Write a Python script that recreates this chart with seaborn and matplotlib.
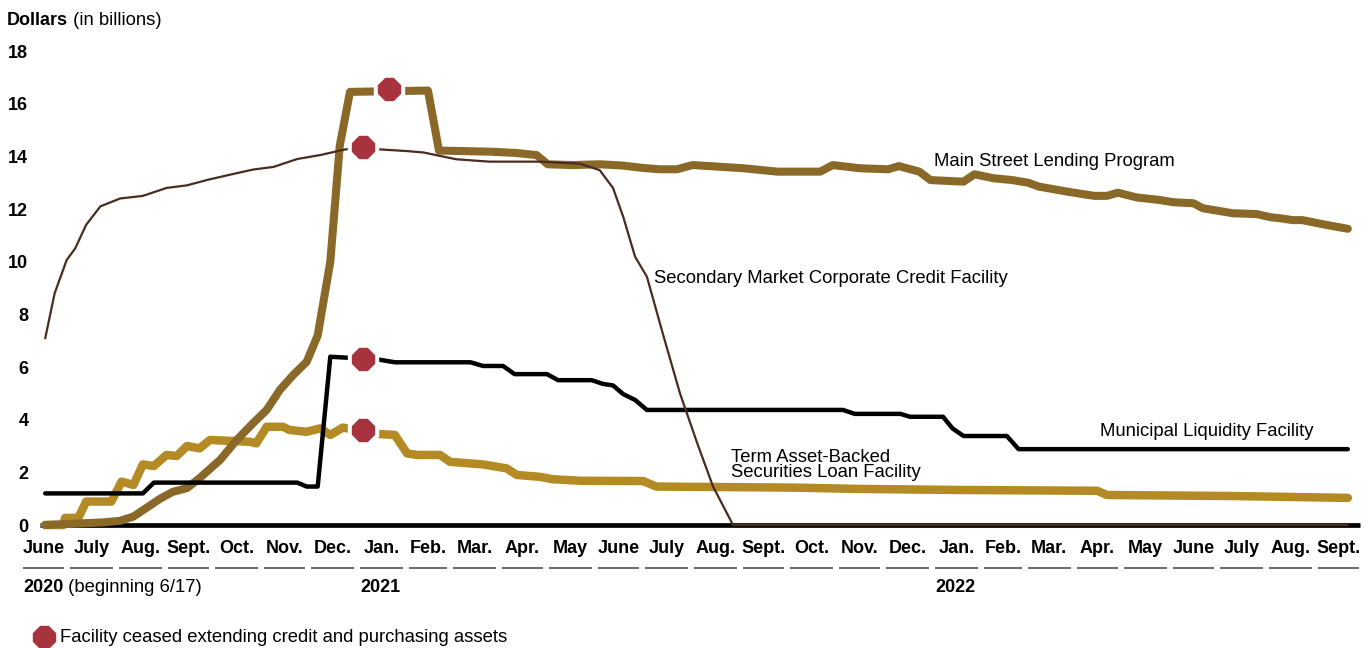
import pandas as pd
import matplotlib
matplotlib.use('Agg')
import matplotlib.pyplot as plt
import matplotlib.transforms as mtransforms
import seaborn as sns

# x values are days counted from 2020-06-01, y values in billions of dollars
START = pd.Timestamp('2020-06-01')
END = pd.Timestamp('2022-10-01')

mslp_day = [16, 53, 63.5, 72, 80, 89, 97, 106, 114, 127, 137.6, 148, 156.6, 165, 173.5, 182, 189, 197, 203, 209.5,
            259, 266, 298, 315, 328, 335, 351, 368, 383, 394, 406, 417, 427, 438, 459, 481, 508, 516, 533, 551,
            558, 571, 578, 599, 606, 618, 630, 640, 647, 665, 682, 690, 697, 709, 724, 732, 745, 751, 770, 785,
            794, 800, 808, 814, 830, 843]
mslp_val = [0.0, 0.1, 0.16, 0.32, 0.64, 1.0, 1.26, 1.4, 1.78, 2.47, 3.23, 3.87, 4.37, 5.13, 5.7, 6.2, 7.2, 10.0, 14.4, 16.45,
            16.5, 14.22, 14.18, 14.13, 14.05, 13.7, 13.67, 13.7, 13.65, 13.57, 13.51, 13.51, 13.67, 13.63, 13.55, 13.42, 13.42, 13.67, 13.55, 13.51,
            13.63, 13.42, 13.1, 13.04, 13.32, 13.17, 13.1, 13.0, 12.85, 12.66, 12.5, 12.5, 12.62, 12.44, 12.34, 12.26, 12.22, 12.03, 11.84, 11.81,
            11.69, 11.65, 11.58, 11.58, 11.39, 11.25]

smccf_day = [16, 22, 29.6, 35, 42, 51, 63.5, 78, 93, 106, 118.5, 133, 148, 161, 176, 190.5, 207, 227, 246, 256,
             277, 298, 330, 355.6, 368, 376.5, 383, 390.5, 398, 408, 419, 430, 440, 452.7, 843]
smccf_val = [7.09, 8.8, 10.06, 10.5, 11.4, 12.1, 12.4, 12.5, 12.8, 12.9, 13.1, 13.3, 13.5, 13.6, 13.9, 14.05, 14.27, 14.27, 14.2, 14.15,
             13.89, 13.8, 13.8, 13.72, 13.48, 12.8, 11.7, 10.19, 9.43, 7.29, 5.0, 3.1, 1.46, 0.0, 0.0]

mlf_day = [16, 78, 85, 176, 182, 189, 197, 206, 227, 238, 286, 294, 306.7, 314, 334.6, 341.6, 363, 370, 376.5, 383,
           390.5, 398, 522.5, 530, 559, 565, 586, 592, 599, 626.5, 634, 843]
mlf_val = [1.2, 1.2, 1.61, 1.61, 1.46, 1.46, 6.39, 6.36, 6.29, 6.18, 6.18, 6.04, 6.04, 5.73, 5.73, 5.5, 5.5, 5.36, 5.3, 4.97,
           4.75, 4.37, 4.37, 4.22, 4.22, 4.11, 4.11, 3.67, 3.38, 3.38, 2.88, 2.88]

talf_day = [16, 27.5, 28.6, 37, 42, 58, 64.5, 72, 78, 85, 93, 99.5, 106, 114, 120.6, 146, 150, 156.6, 167, 171,
            182, 190.5, 197, 205, 227, 238, 245.7, 252, 266.7, 273, 294, 309, 315.5, 330, 338, 355.6, 395.5, 404, 491, 533,
            597, 684, 690, 770, 843]
talf_val = [0.0, 0.0, 0.27, 0.27, 0.89, 0.89, 1.65, 1.52, 2.3, 2.24, 2.66, 2.62, 3.0, 2.91, 3.23, 3.16, 3.1, 3.73, 3.73, 3.61,
            3.54, 3.67, 3.42, 3.7, 3.46, 3.42, 2.72, 2.66, 2.66, 2.4, 2.3, 2.15, 1.9, 1.83, 1.74, 1.68, 1.67, 1.46, 1.42, 1.37,
            1.33, 1.3, 1.14, 1.1, 1.03]

# facility ceased extending credit (MSLP, SMCCF, MLF, TALF)
stop_day = [234.3, 218, 218, 218]
stop_val = [16.56, 14.36, 6.3, 3.59]

month_labels = ['June', 'July', 'Aug.', 'Sept.', 'Oct.', 'Nov.', 'Dec.',
                'Jan.', 'Feb.', 'Mar.', 'Apr.', 'May', 'June', 'July', 'Aug.', 'Sept.', 'Oct.', 'Nov.', 'Dec.',
                'Jan.', 'Feb.', 'Mar.', 'Apr.', 'May', 'June', 'July', 'Aug.', 'Sept.']
year_labels = ['2020', '2021', '2022']
year_starts = ['2020-06-01', '2021-01-01', '2022-01-01']
y_ticks = [0, 2, 4, 6, 8, 10, 12, 14, 16, 18]

MSLP_C = '#8a6828'
TALF_C = '#b38a24'
SMCCF_C = '#4a2b1f'
RED = '#a6333d'

sns.set_theme(style='white')
plt.rcParams['font.family'] = ['Liberation Sans', 'DejaVu Sans']
plt.rcParams['text.color'] = 'black'
plt.rcParams['xtick.color'] = 'black'
plt.rcParams['ytick.color'] = 'black'

W, H = 1369, 648
fig = plt.figure(figsize=(W / 100, H / 100), dpi=100)
ax = fig.add_axes([20 / W, (H - 540) / H, 1342 / W, 510 / H])
ax.set_xlim(0, (END - START).days)
ax.set_ylim(-15 / 26.33, 495 / 26.33)
for s in ax.spines.values():
    s.set_visible(False)

# zero baseline
ax.plot([mslp_day[0] - 3.3, (END - START).days - 1], [0, 0], color='black', lw=3.4,
        solid_capstyle='butt', zorder=1)

series = [
    (talf_day, talf_val, TALF_C, 6.1),
    (mslp_day, mslp_val, MSLP_C, 5.8),
    (mlf_day, mlf_val, 'black', 3.2),
    (smccf_day, smccf_val, SMCCF_C, 1.6),
]
for i, (d, v, c, lw) in enumerate(series):
    df = pd.DataFrame({'day': d, 'val': v})
    sns.lineplot(data=df, x='day', y='val', ax=ax, color=c, linewidth=lw, sort=False,
                 estimator=None, solid_capstyle='round', zorder=2 + i)

# ceased markers with white halo
ax.plot(stop_day, stop_val, ls='none', marker='8', ms=24, color='white', zorder=10)
ax.plot(stop_day, stop_val, ls='none', marker='8', ms=16.5, color=RED, zorder=11)

# series labels
fs = 13.3
ax.text(580.3, 13.63, 'Main Street Lending Program', fontsize=fs, va='baseline')
ax.text(402.5, 9.18, 'Secondary Market Corporate Credit Facility', fontsize=fs, va='baseline')
ax.text(685.7, 3.38, 'Municipal Liquidity Facility', fontsize=fs, va='baseline')
ax.text(451.2, 2.39, 'Term Asset-Backed', fontsize=fs, va='baseline')
ax.text(451.2, 1.82, 'Securities Loan Facility', fontsize=fs, va='baseline')

# y axis
ax.set_yticks(y_ticks)
ax.set_yticklabels([str(t) for t in y_ticks], fontweight='bold', fontsize=13)
ax.tick_params(axis='y', length=0, pad=-6)
ax.set_ylabel('')
ax.set_xlabel('')

# month axis
months = pd.date_range(START, END, freq='MS')
m_days = [(m - START).days for m in months]
centers = [(a + b) / 2 for a, b in zip(m_days[:-1], m_days[1:])]
ax.set_xticks(centers)
ax.set_xticklabels(month_labels, fontweight='bold', fontsize=13)
ax.tick_params(axis='x', length=0, pad=0)

trans = mtransforms.blended_transform_factory(ax.transData, ax.transAxes)
for a, b in zip(m_days[:-1], m_days[1:]):
    ax.plot([a + 2, b - 2], [-0.055, -0.055], transform=trans, color='#444444', lw=1.1,
            clip_on=False, solid_capstyle='butt')

for lab, ys in zip(year_labels, year_starts):
    x0 = (pd.Timestamp(ys) - START).days + 2
    t = ax.text(x0, (540 - 592.5) / 510, lab, transform=trans, fontsize=13, fontweight='bold',
                va='baseline', ha='left')
    if lab == '2020':
        ax.annotate(' (beginning 6/17)', xy=(1, 0), xycoords=t, fontsize=fs, va='bottom', ha='left')

# header
t = fig.text(7 / W, 1 - 25 / H, 'Dollars', fontsize=13, fontweight='bold', va='baseline')
ax.annotate(' (in billions)', xy=(1, 0), xycoords=t, fontsize=fs, va='bottom', ha='left')

# legend
ax.plot([44 / W], [1 - 637 / H], marker='8', ms=16.5, color=RED, ls='none',
        transform=fig.transFigure, clip_on=False)
fig.text(60 / W, 1 - 641.5 / H, 'Facility ceased extending credit and purchasing assets',
         fontsize=fs, va='baseline')

fig.savefig('out.png', dpi=100)
